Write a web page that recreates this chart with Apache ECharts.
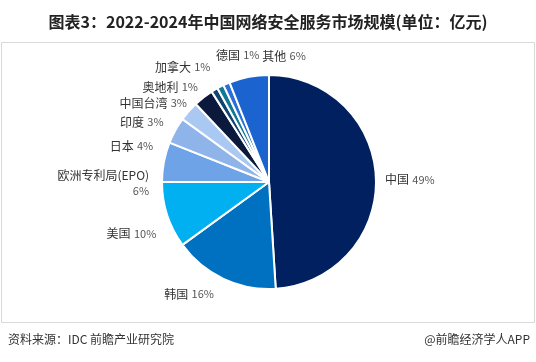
<!DOCTYPE html>
<html><head><meta charset="utf-8">
<script src="https://cdn.jsdelivr.net/npm/echarts@6/dist/echarts.min.js"></script>
<style>html,body{margin:0;padding:0;background:#fff}#c{width:536px;height:362px}</style>
</head><body><div id="c"></div>
<script>
var categories = ['中国','韩国','美国','欧洲专利局(EPO)','日本','印度','中国台湾','奥地利','加拿大','德国','其他'];
var values = [49,16,10,6,4,3,3,1,1,1,6];
var colors = ['#002060','#0070c0','#00b0f0','#6fa3e8','#8fb4ea','#a9c8f2','#0b1a3c','#0f4570','#107a96','#2b6fd4','#1b64d0'];
// label nudges (text placement only)
var labelNudgeX = [-4,0,-3,-5,-4,2,19,21,21,52,65];
var labelNudgeY = [1,10,17,6,-9,-19,-24,-26,-32,-30,-15];

var chart = echarts.init(document.getElementById('c'));
var data = categories.map(function(n,i){
  return {name:n, value:values[i], itemStyle:{color:colors[i]}};
});
chart.setOption({
  animation:false,
  title:{text:'图表3：2022-2024年中国网络安全服务市场规模(单位：亿元)',left:'center',top:9,
    textStyle:{fontSize:16,fontWeight:'bold',color:'#222',fontFamily:'Noto Sans CJK SC'}},
  graphic:[
    {type:'rect',shape:{x:1.5,y:42.5,width:533,height:280},style:{fill:'none',stroke:'#d9d9d9',lineWidth:1}},
    {type:'text',left:8,top:333,style:{text:'资料来源：IDC 前瞻产业研究院',fill:'#333',font:'12px "Noto Sans CJK SC"'}},
    {type:'text',right:6,top:333,style:{text:'@前瞻经济学人APP',fill:'#333',font:'12px "Noto Sans CJK SC"'}}
  ],
  series:[{
    type:'pie',
    center:[269,182],
    radius:[0,107],
    startAngle:90,
    clockwise:true,
    avoidLabelOverlap:true,
    data:data,
    itemStyle:{borderColor:'#fff',borderWidth:2},
    label:{show:true,position:'outside',
      formatter:function(p){
        if(p.name.indexOf('EPO')>=0) return '{n|'+p.name+'}\n{v|'+p.value+'%}';
        return '{n|'+p.name+'} {v|'+p.value+'%}';
      },
      align:'center',
      rich:{n:{fontSize:12,color:'#333',fontFamily:'Noto Sans CJK SC',lineHeight:16},
            v:{fontSize:11,color:'#555',fontFamily:'Noto Sans CJK SC',lineHeight:16}}
    },
    labelLine:{show:false,length:6,length2:2},
    labelLayout:function(p){
      return {dx:labelNudgeX[p.dataIndex], dy:labelNudgeY[p.dataIndex]};
    }
  }]
});
</script></body></html>
